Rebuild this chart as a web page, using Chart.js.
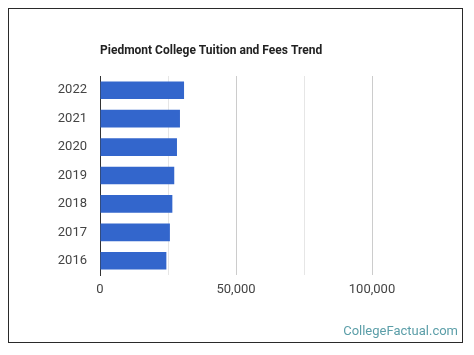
<!DOCTYPE html>
<html>
<head>
<meta charset="utf-8">
<script src="https://cdn.jsdelivr.net/npm/chart.js"></script>
<style>
  html, body { margin: 0; padding: 0; background: #fff; }
  canvas { display: block; }
</style>
</head>
<body>
<canvas id="chart" width="474" height="355"></canvas>
<script>
const years = ["2022", "2021", "2020", "2019", "2018", "2017", "2016"];
const tuition = [30900, 29400, 28300, 27300, 26600, 25700, 24400];
const axisMax = 125000;
const axisStep = 25000;

const titleText = "Piedmont College Tuition and Fees Trend";
const sourceText = "CollegeFactual.com";

const framePlugin = {
  id: "frame",
  beforeDraw(chart) {
    const ctx = chart.ctx;
    ctx.save();
    ctx.fillStyle = "#fff";
    ctx.fillRect(0, 0, chart.width, chart.height);
    ctx.restore();
  },
  afterDraw(chart) {
    const ctx = chart.ctx;
    ctx.save();
    ctx.strokeStyle = "#2a2a2a";
    ctx.lineWidth = 1;
    ctx.strokeRect(8.5, 8.5, 454, 334);

    ctx.fillStyle = "#222";
    ctx.font = "bold 12px Roboto";
    ctx.textBaseline = "middle";
    ctx.textAlign = "left";
    ctx.fillText(titleText, chart.chartArea.left, 51);

    ctx.fillStyle = "#5b9ea8";
    ctx.font = "13px Roboto";
    ctx.textAlign = "right";
    ctx.fillText(sourceText, 458, 332);
    ctx.restore();
  },
};

new Chart(document.getElementById("chart").getContext("2d"), {
  type: "bar",
  data: {
    labels: years,
    datasets: [
      {
        data: tuition,
        backgroundColor: "#3366cc",
        borderWidth: 0,
        categoryPercentage: 1,
        barPercentage: 0.62,
      },
    ],
  },
  options: {
    indexAxis: "y",
    responsive: false,
    animation: false,
    layout: { padding: { left: 0, top: 76, right: 34, bottom: 0 } },
    plugins: {
      legend: { display: false },
      tooltip: { enabled: false },
    },
    scales: {
      x: {
        min: 0,
        max: axisMax,
        afterFit: (s) => { s.height = 80; },
        ticks: {
          stepSize: axisStep,
          color: "#444",
          font: { family: "Roboto", size: 13 },
          padding: 7,
          maxRotation: 0,
          autoSkip: false,
          callback: (v) => (v % 50000 === 0 ? v.toLocaleString("en-US") : ""),
        },
        grid: {
          drawTicks: false,
          color: (c) => {
            const v = c.tick ? c.tick.value : 0;
            if (v === 0 || v === axisMax) return "rgba(0,0,0,0)";
            return v % 50000 === 0 ? "#cccccc" : "#e6e6e6";
          },
        },
        border: { display: false },
      },
      y: {
        afterFit: (s) => { s.width = 100; },
        ticks: {
          color: "#444",
          font: { family: "Roboto", size: 13 },
          padding: 13,
        },
        grid: { display: false, drawTicks: false },
        border: { display: true, color: "#333", width: 1 },
      },
    },
  },
  plugins: [framePlugin],
});
</script>
</body>
</html>
